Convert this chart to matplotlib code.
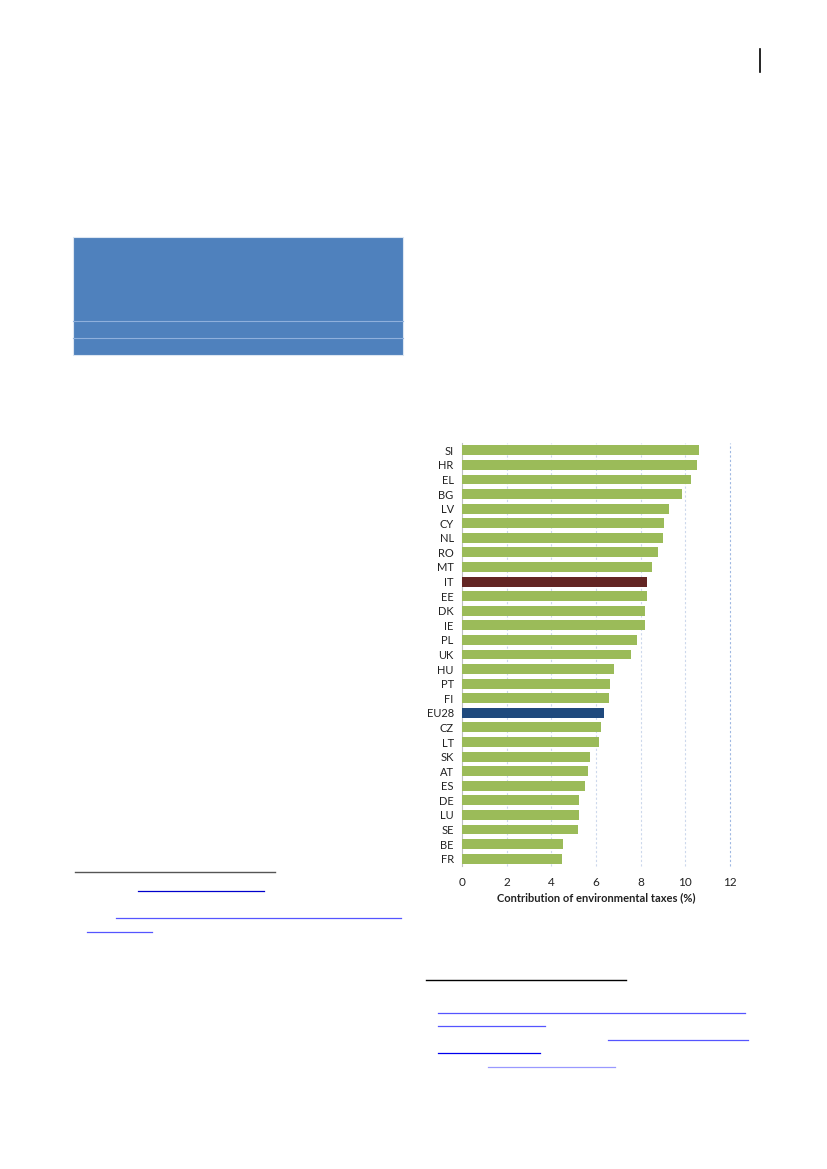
import numpy as np
import matplotlib
matplotlib.use("Agg")
import matplotlib.pyplot as plt
from matplotlib.patches import Rectangle
from matplotlib.lines import Line2D

countries = ['SI', 'HR', 'EL', 'BG', 'LV', 'CY', 'NL', 'RO', 'MT', 'IT',
             'EE', 'DK', 'IE', 'PL', 'UK', 'HU', 'PT', 'FI', 'EU28', 'CZ',
             'LT', 'SK', 'AT', 'ES', 'DE', 'LU', 'SE', 'BE', 'FR']
values = [10.61, 10.52, 10.25, 9.87, 9.27, 9.03, 8.98, 8.77, 8.52, 8.28,
          8.28, 8.21, 8.18, 7.83, 7.55, 6.80, 6.61, 6.58, 6.37, 6.23,
          6.14, 5.75, 5.65, 5.52, 5.25, 5.25, 5.20, 4.53, 4.47]
x_ticks = [0, 2, 4, 6, 8, 10, 12]

W, H = 827, 1169
fig = plt.figure(figsize=(W / 100, H / 100), dpi=100)
plt.rcParams['font.family'] = ['Lato', 'DejaVu Sans']


def px(x, y):
    return x / W, 1 - y / H


# page decoration: blue box and footnote rules
x0, y0 = px(73, 355)
fig.add_artist(Rectangle((x0, y0), 330 / W, 118 / H, transform=fig.transFigure,
                         facecolor='#4F81BD', edgecolor='#dce6f2', lw=0.8))
for yy in (321, 338):
    a, b = px(73, yy)
    c, d = px(403, yy)
    fig.add_artist(Line2D([a, c], [b, d], transform=fig.transFigure, color='#8fb0dc', lw=0.8))


def rule(xa, xb, yy, color, lw=1.0):
    a, b = px(xa, yy)
    c, d = px(xb, yy)
    fig.add_artist(Line2D([a, c], [b, d], transform=fig.transFigure, color=color, lw=lw))


rule(75, 275, 872, '#555555', 1.0)
rule(138, 264, 891, '#0000cc', 0.9)
rule(116, 401, 918, '#5555ff', 0.9)
rule(87, 152, 932, '#5555ff', 0.9)
rule(426, 626, 980, '#000000', 1.0)
rule(438, 745, 1013, '#5555ff', 0.9)
rule(438, 545, 1026, '#5555ff', 0.9)
rule(608, 748, 1040, '#5555ff', 0.9)
rule(438, 540, 1053, '#0000ee', 0.9)
rule(488, 615, 1067, '#9999ff', 0.9)
a, b = px(760, 49)
c, d = px(760, 72)
fig.add_artist(Line2D([a, c], [b, d], transform=fig.transFigure, color='black', lw=1.2))

# chart
ax = fig.add_axes([462 / W, 1 - 866 / H, 268 / W, 423 / H])
colors = []
for c in countries:
    if c == 'IT':
        colors.append('#632523')
    elif c == 'EU28':
        colors.append('#1F497D')
    else:
        colors.append('#9BBB59')

ypos = np.arange(len(countries))
ax.barh(ypos, values, height=0.68, color=colors, zorder=3)
ax.set_ylim(len(countries) - 0.5, -0.5)
ax.set_xlim(0, 12)
ax.set_xticks(x_ticks)
ax.set_yticks(ypos)
ax.set_yticklabels(countries)
ax.tick_params(axis='y', length=0, labelsize=8, colors='#222222', pad=6)
ax.tick_params(axis='x', length=0, labelsize=8.5, colors='#222222', pad=8)
for xv in x_ticks[1:]:
    ax.axvline(xv, color='#ccd8ec' if xv < 12 else '#9fb8e2',
               linestyle=(0, (2, 2)), lw=0.8, zorder=0, clip_on=False)
for s in ['top', 'right', 'bottom']:
    ax.spines[s].set_visible(False)
ax.spines['left'].set_color('#bfbfbf')
ax.spines['left'].set_linewidth(0.8)
ax.set_xlabel('Contribution of environmental taxes (%)', fontsize=8, fontweight='bold',
              color='#222222', labelpad=3)

fig.savefig('out.png', dpi=100)
